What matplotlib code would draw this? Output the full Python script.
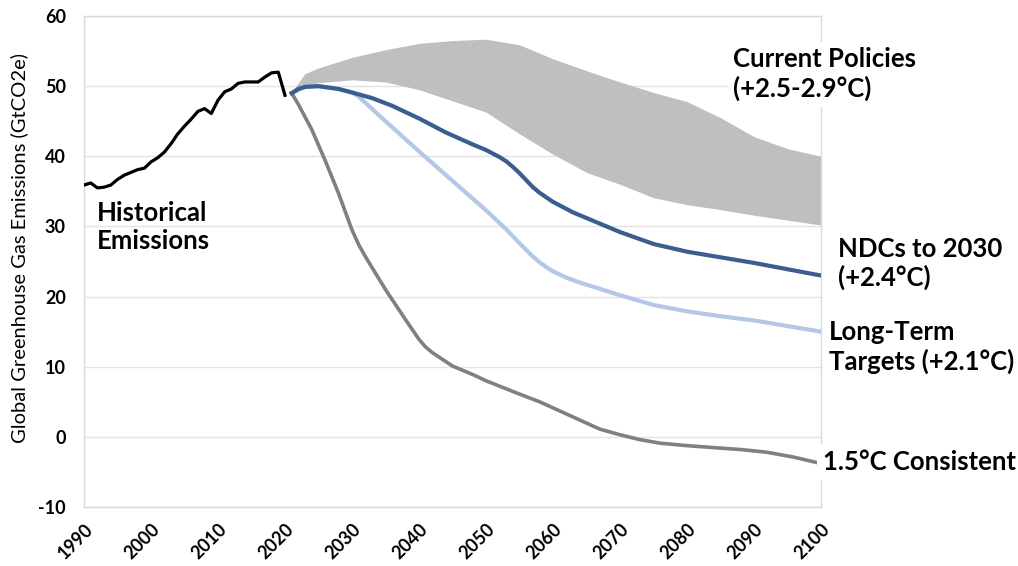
import matplotlib
matplotlib.use("Agg")
import matplotlib.pyplot as plt

plt.rcParams['font.family'] = ['Lato', 'DejaVu Sans']

# historical emissions (GtCO2e)
hist_years = list(range(1990, 2021))
hist_vals = [35.9, 36.2, 35.5, 35.6, 35.9, 36.7, 37.3, 37.7, 38.1, 38.3,
             39.2, 39.8, 40.6, 41.8, 43.2, 44.3, 45.3, 46.4, 46.8, 46.1,
             48.0, 49.2, 49.6, 50.4, 50.6, 50.6, 50.6, 51.3, 51.9, 52.0, 48.7]

# current policies range
band_years = [2021, 2023, 2025, 2030, 2035, 2040, 2045, 2050, 2055, 2060,
              2065, 2070, 2075, 2080, 2085, 2090, 2095, 2100]
band_upper = [49.2, 51.8, 52.6, 54.1, 55.2, 56.1, 56.5, 56.7, 55.9, 53.9,
              52.2, 50.6, 49.1, 47.8, 45.5, 42.8, 41.1, 40.0]
band_lower = [49.0, 50.0, 50.5, 50.9, 50.6, 49.5, 47.9, 46.3, 43.2, 40.3,
              37.7, 36.0, 34.1, 33.1, 32.4, 31.6, 30.9, 30.2]

# NDCs to 2030
ndc_years = [2021, 2022, 2023, 2025, 2028, 2030, 2033, 2036, 2040, 2044,
             2048, 2050, 2052, 2053, 2054, 2055, 2056, 2057, 2058, 2060,
             2063, 2066, 2070, 2075, 2080, 2085, 2090, 2095, 2100]
ndc_vals = [49.0, 49.6, 49.9, 50.0, 49.6, 49.1, 48.3, 47.2, 45.4, 43.4,
            41.7, 40.9, 39.9, 39.3, 38.5, 37.6, 36.6, 35.6, 34.8, 33.5,
            32.0, 30.8, 29.2, 27.5, 26.4, 25.6, 24.8, 23.9, 23.0]

# long-term targets
lt_years = [2021, 2023, 2025, 2028, 2030, 2031, 2035, 2040, 2045, 2050,
            2053, 2055, 2057, 2058, 2059, 2060, 2062, 2064, 2066, 2070,
            2075, 2080, 2085, 2090, 2095, 2100]
lt_vals = [49.0, 49.9, 50.0, 49.6, 49.1, 48.5, 45.0, 40.7, 36.5, 32.3,
           29.6, 27.6, 25.7, 24.9, 24.2, 23.6, 22.7, 22.0, 21.4, 20.2,
           18.8, 17.9, 17.2, 16.6, 15.8, 15.0]

# 1.5C consistent
c15_years = [2021, 2022, 2024, 2026, 2028, 2030, 2031, 2032, 2035, 2038,
             2040, 2041, 2042, 2045, 2048, 2050, 2055, 2058, 2061, 2064,
             2067, 2070, 2073, 2076, 2080, 2085, 2088, 2092, 2096, 2100]
c15_vals = [49.0, 47.4, 43.8, 39.4, 34.7, 29.5, 27.4, 25.7, 21.0, 16.7,
            13.9, 12.8, 12.0, 10.1, 8.9, 8.0, 6.1, 5.0, 3.7, 2.4,
            1.1, 0.3, -0.4, -0.9, -1.25, -1.6, -1.8, -2.2, -2.9, -3.8]

x_ticks = list(range(1990, 2101, 10))
y_ticks = list(range(-10, 61, 10))

fig = plt.figure(figsize=(10.18, 5.66), dpi=100)
ax = fig.add_axes([0.0825, 0.1042, 0.7240, 0.8675])

ax.fill_between(band_years, band_lower, band_upper, color='#BFBFBF', linewidth=0, zorder=2)
ax.plot(lt_years, lt_vals, '-', color='#B4C7E7', linewidth=3, zorder=3)
ax.plot(ndc_years, ndc_vals, '-', color='#3A5F8F', linewidth=3, zorder=4)
ax.plot(c15_years, c15_vals, '-', color='#808080', linewidth=2.6, zorder=3)
ax.plot(hist_years, hist_vals, '-', color='black', linewidth=2.3, zorder=4)

ax.set_xlim(1990, 2100)
ax.set_ylim(-10, 60)
ax.set_xticks(x_ticks)
ax.set_yticks(y_ticks)
ax.set_xticklabels([str(t) for t in x_ticks], rotation=45, ha='right', va='top',
                   rotation_mode='anchor', fontweight='bold', fontsize=13)
ax.set_yticklabels([str(t) for t in y_ticks], fontweight='bold', fontsize=13)
ax.tick_params(axis='both', length=0)
ax.tick_params(axis='y', pad=13)
ax.tick_params(axis='x', pad=10)

for s in ax.spines.values():
    s.set_color('#D9D9D9')
    s.set_linewidth(1)
ax.grid(True, axis='y', color='#E3E3E3', linewidth=1)
ax.set_axisbelow(True)

box = dict(facecolor='white', edgecolor='none', pad=4)
tkw = dict(fontsize=18.5, fontweight='bold', va='center', ha='left', linespacing=1.2)
ax.text(1991.9, 29.9, "Historical\nEmissions", **tkw)
ax.text(2086.9, 51.7, "Current Policies\n(+2.5-2.9°C)", bbox=box, clip_on=False, zorder=6, **tkw)
ax.text(2102.5, 24.7, "NDCs to 2030\n(+2.4°C)", bbox=box, clip_on=False, zorder=6, **tkw)
ax.text(2101.2, 12.8, "Long-Term\nTargets (+2.1°C)", bbox=box, clip_on=False, zorder=6, **tkw)
ax.text(2100.3, -3.6, "1.5°C Consistent", bbox=box, clip_on=False, zorder=6, **tkw)

fig.text(19 / 1018, 1 - 248 / 566, "Global Greenhouse Gas Emissions (GtCO2e)",
         rotation=90, ha='center', va='center', fontsize=14.5)

fig.savefig("out.png", dpi=100, facecolor='white')
